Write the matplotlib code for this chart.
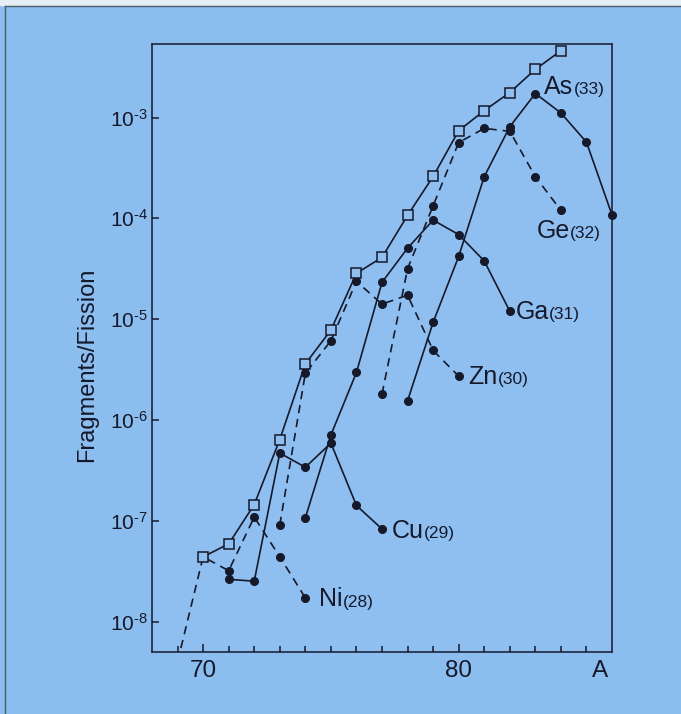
import numpy as np
import matplotlib.pyplot as plt
from matplotlib.lines import Line2D

plt.rcParams['font.family'] = ['Liberation Sans', 'DejaVu Sans']
plt.rcParams['mathtext.default'] = 'regular'

# Total chain yield (open squares)
A_total = np.arange(70, 85)
total = [4.4e-8, 5.9e-8, 1.45e-7, 6.4e-7, 3.6e-6, 7.8e-6, 2.85e-5, 4.1e-5,
         1.07e-4, 2.6e-4, 7.4e-4, 1.17e-3, 1.77e-3, 3.0e-3, 4.6e-3]

# Independent yields per element
A_ni = np.arange(69, 75)
ni = [4.0e-9, 4.4e-8, 3.2e-8, 1.09e-7, 4.4e-8, 1.72e-8]
A_cu = np.arange(71, 78)
cu = [2.63e-8, 2.52e-8, 4.7e-7, 3.4e-7, 5.9e-7, 1.42e-7, 8.3e-8]
A_zn = np.arange(73, 81)
zn = [9.1e-8, 2.9e-6, 6.1e-6, 2.37e-5, 1.41e-5, 1.73e-5, 4.9e-6, 2.72e-6]
A_ga = np.arange(74, 83)
ga = [1.07e-7, 7.1e-7, 2.96e-6, 2.32e-5, 5.06e-5, 9.6e-5, 6.9e-5, 3.78e-5, 1.2e-5]
A_ge = np.arange(77, 85)
ge = [1.81e-6, 3.16e-5, 1.33e-4, 5.65e-4, 7.8e-4, 7.3e-4, 2.59e-4, 1.2e-4]
A_as = np.arange(78, 87)
as_ = [1.55e-6, 9.3e-6, 4.19e-5, 2.59e-4, 8.1e-4, 1.73e-3, 1.11e-3, 5.7e-4, 1.08e-4]

# element labels: symbol, Z, anchor (A, yield)
names = ['As', 'Ge', 'Ga', 'Zn', 'Cu', 'Ni']
charges = ['(33)', '(32)', '(31)', '(30)', '(29)', '(28)']
label_A = [83.35, 83.05, 82.23, 80.37, 77.38, 74.53]
label_y = [2.0e-3, 7.5e-5, 1.17e-5, 2.66e-6, 7.9e-8, 1.66e-8]

bg = '#8cbdef'
ink = '#15192a'

fig = plt.figure(figsize=(6.81, 7.14), dpi=100, facecolor=bg)
ax = fig.add_axes([0.2232, 0.0868, 0.6755, 0.8516])
ax.set_facecolor('#8fbff1')

solid = dict(color=ink, lw=1.2, marker='o', ms=5.5, mfc=ink, mec=ink)
dashed = dict(solid, ls=(0, (5, 3.5)))

ax.plot(A_ni, ni, **dashed, clip_on=True)
ax.plot(A_cu, cu, **solid, clip_on=False)
ax.plot(A_zn, zn, **dashed, clip_on=False)
ax.plot(A_ga, ga, **solid, clip_on=False)
ax.plot(A_ge, ge, **dashed, clip_on=False)
ax.plot(A_as, as_, **solid, clip_on=False)
ax.plot(A_total, total, color=ink, lw=1.2, marker='s', ms=7,
        mfc='#8fbff1', mec=ink, mew=1.1, zorder=5, clip_on=False)

ax.set_yscale('log')
ax.set_xlim(68, 86)
ax.set_ylim(5.0e-9, 5.36e-3)

ax.set_xticks([70, 80])
ax.set_xticklabels(['70', '80'], fontsize=17.5, color=ink)
ax.set_xticks(np.arange(69, 86), minor=True)
ax.tick_params(axis='x', which='major', direction='in', length=6, width=1.1,
               color=ink, pad=6, top=False)
ax.tick_params(axis='x', which='minor', direction='in', length=4, width=1.1,
               color=ink, top=False)

# decade labels with a short hyphen in the exponent
yt = [1e-8, 1e-7, 1e-6, 1e-5, 1e-4, 1e-3]
ax.set_yticks(yt)
ax.set_yticklabels(['$10^{\u2010%d}$' % k for k in [8, 7, 6, 5, 4, 3]],
                   fontsize=15, color=ink)
ax.yaxis.set_minor_locator(plt.NullLocator())
ax.tick_params(axis='y', which='major', direction='in', length=5, width=1.1,
               color=ink, pad=3, right=False)

for s in ax.spines.values():
    s.set_color(ink)
    s.set_linewidth(1.1)

ax.annotate('A', xy=(85.55, 5.0e-9), xytext=(0, -6), textcoords='offset points',
            fontsize=17.5, color=ink, ha='center', va='top')
fig.text(0.128, 0.489, 'Fragments/Fission', rotation=90, fontsize=17,
         color=ink, ha='center', va='center')

for name, z, xa, ya in zip(names, charges, label_A, label_y):
    t = ax.text(xa, ya, name, fontsize=18, color=ink, ha='left', va='center')
    ax.annotate(z, xy=(1, 0.08), xycoords=t, fontsize=12.5, color=ink,
                ha='left', va='bottom')

# scanned page edge along top and left
fig.add_artist(Line2D([5 / 681, 1], [1 - 6 / 714, 1 - 6 / 714],
                      color='#4a5f66', lw=1.0))
fig.add_artist(Line2D([5 / 681, 5 / 681], [0, 1 - 6 / 714],
                      color='#4a5f66', lw=1.0))
fig.patches.append(plt.Rectangle((0, 1 - 5 / 714), 1, 5 / 714,
                                 transform=fig.transFigure, color='#e4eef5',
                                 zorder=0))

fig.savefig('out.png', dpi=100, facecolor=bg)
